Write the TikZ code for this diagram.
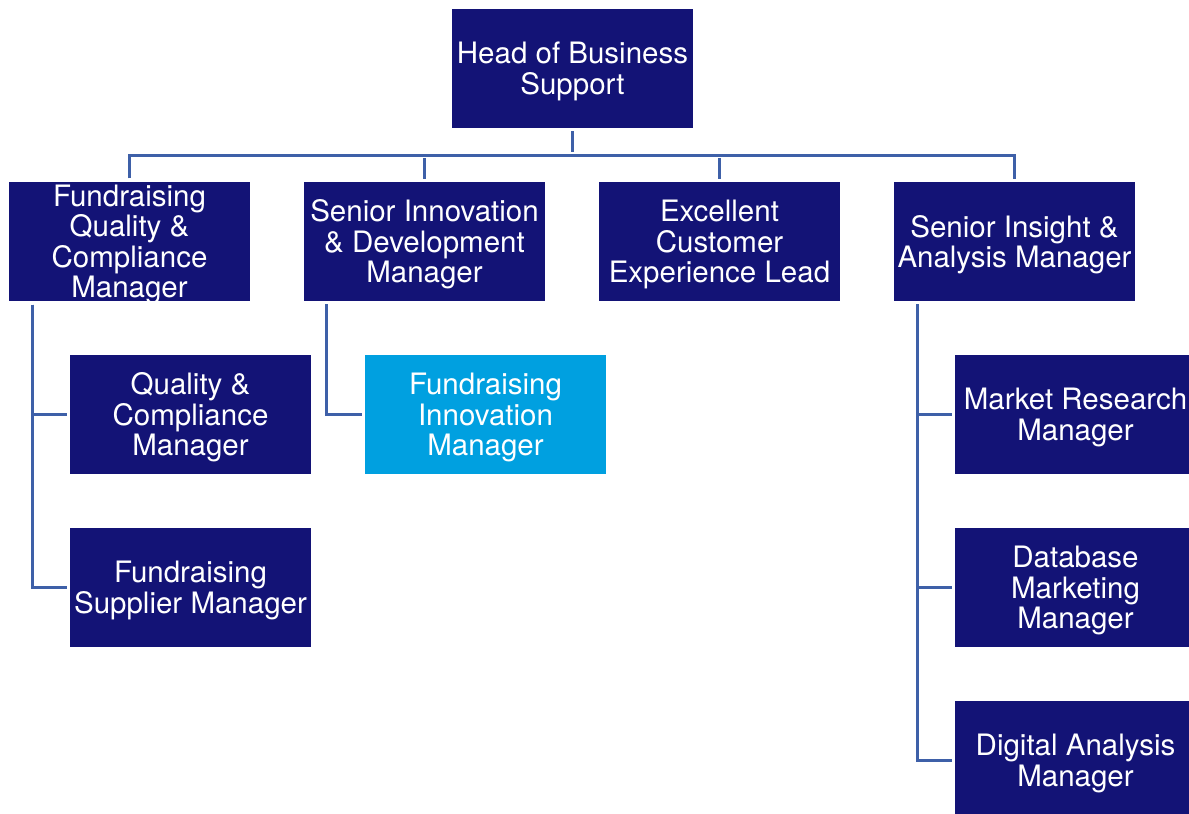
\documentclass[tikz,border=0pt]{standalone}
\usepackage{fontspec}
\setmainfont{TeX Gyre Heros}
\definecolor{navy}{RGB}{19,19,118}
\definecolor{sky}{RGB}{0,160,224}
\definecolor{linkblue}{RGB}{62,96,168}
\begin{document}
\begin{tikzpicture}
[   x=1pt, y=-1pt,
    post/.style={fill=#1,text=white,minimum width=241,minimum height=119,inner sep=0pt,
                 align=center,font=\fontsize{29.5}{30.6}\selectfont,
                 execute at begin node={\vbox\bgroup\kern3pt},
                 execute at end node={\kern-3pt\egroup}},
    post/.default=navy,
    link/.style={draw=linkblue,line width=3pt,shorten <=3pt,shorten >=3pt},
]
    \clip (0,0) rectangle (1189,814);
    \node[post] (head) at (572.5,68.5) {Head of Business\\Support};
    % second row
    \node[post] (fqc)  at (129.5,241.5) {Fundraising\\Quality \&\\Compliance\\Manager};
    \node[post] (sid)  at (424.5,241.5) {Senior Innovation\\\& Development\\Manager};
    \node[post] (ecel) at (719.5,241.5) {Excellent\\Customer\\Experience Lead};
    \node[post] (siam) at (1014.5,241.5) {Senior Insight \&\\Analysis Manager};
    % third row
    \node[post] (qcm) at (190.5,414.5) {Quality \&\\Compliance\\Manager};
    \node[post] (fsm) at (190.5,587.5) {Fundraising\\Supplier Manager};
    \node[post=sky] (fim) at (485.5,414.5) {Fundraising\\Innovation\\Manager};
    \node[post] (mrm) at (1075.5,414.5) {Market Research\\Manager};
    \node[post] (dmm) at (1075.5,587.5) {Database\\Marketing\\Manager};
    \node[post] (dam) at (1075.5,760.5) {Digital Analysis\\Manager};

    \coordinate (bus) at (572.5,155);
    \draw[link] (head) -- (head |- bus);
    \draw[link] (fqc.north) |- (bus) -| (siam.north);
    \draw[link] (sid.north) -- (sid.north |- bus);
    \draw[link] (ecel.north) -- (ecel.north |- bus);

    \draw[link] ([xshift=24]fqc.south west) |- (qcm.west);
    \draw[link] ([xshift=24]fqc.south west) |- (fsm.west);
    \draw[link] ([xshift=23]sid.south west) |- (fim.west);
    \foreach \n in {mrm,dmm,dam}
    {   \draw[link] ([xshift=24]siam.south west) |- (\n.west);
    }
\end{tikzpicture}
\end{document}
